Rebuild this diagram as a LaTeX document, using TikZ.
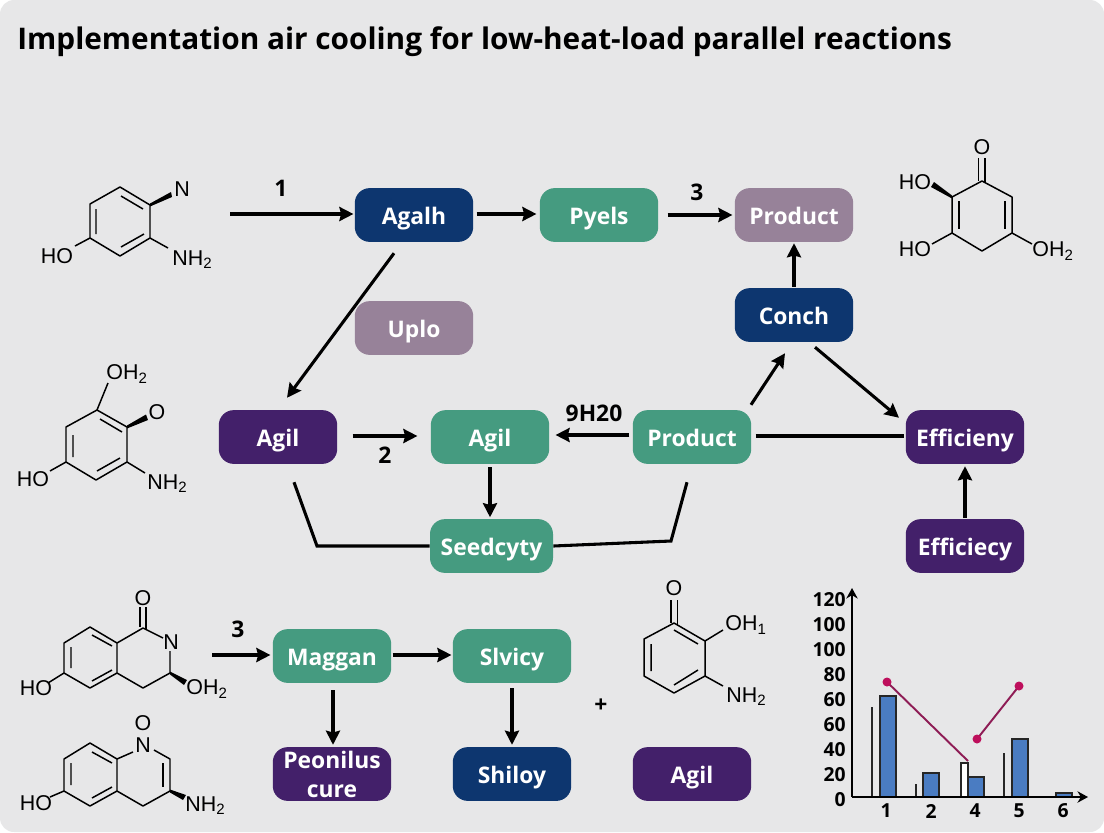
\documentclass[tikz,border=0pt]{standalone}
\usepackage{fontspec}
\setmainfont{Open Sans}
\newfontfamily\chemfont{Liberation Sans}
\usetikzlibrary{arrows.meta,calc}
\definecolor{bgpage}{HTML}{E7E7E8}
\definecolor{navybox}{HTML}{0D366F}
\definecolor{greenbox}{HTML}{459B80}
\definecolor{mauvebox}{HTML}{978299}
\definecolor{purplebox}{HTML}{43206A}
\definecolor{barblue}{HTML}{4A7CC2}
\definecolor{dotred}{HTML}{BE0F5C}
\definecolor{linered}{HTML}{8E1C55}
\tikzset{
  procbase/.style={rounded corners=8.5pt,minimum width=67.4pt,minimum height=30.6pt,inner sep=0pt,
    align=center,text=white,font=\fontsize{13}{16.5}\selectfont\bfseries},
  procbox/.style={procbase,text height=11.5pt,text depth=0.5pt},
  flow/.style={line width=1.75pt,-{Stealth[length=8pt,width=8pt,inset=1pt]}},
  flowline/.style={line width=1.75pt},
  steplabel/.style={font=\fontsize{13}{15}\selectfont\bfseries},
  chem/.style={line width=0.85pt,line join=round},
  atom/.style={inner sep=0pt,font=\chemfont\fontsize{12.2}{14}\selectfont},
  ticklabel/.style={inner sep=0pt,font=\fontsize{11}{13}\selectfont\bfseries},
  bluebar/.style={fill=barblue,draw=black!85,line width=0.85pt},
  thinbar/.style={draw=black!85,fill=white,line width=0.85pt}
}
\begin{document}
\begin{tikzpicture}[x=0.02cm,y=-0.02cm]
  \useasboundingbox (0,0) rectangle (1104,832);
  \fill[white] (0,0) rectangle (1104,832);
  \fill[bgpage,rounded corners=8pt] (0,0) rectangle (1104,832);
  \node[anchor=west,inner sep=0pt,font=\fontsize{16.95}{20}\selectfont\bfseries] (title) at (17,42) {Implementation air cooling for low-heat-load parallel reactions};

  % boxes
  \node[procbox,fill=navybox] (agalh) at (414,215) {Agalh};
  \node[procbox,fill=greenbox] (pyels) at (599,215) {Pyels};
  \node[procbox,fill=mauvebox] (producttop) at (794,215) {Product};
  \node[procbox,fill=navybox] (conch) at (794,315) {Conch};
  \node[procbox,fill=mauvebox] (uplo) at (414,328) {Uplo};
  \node[procbox,fill=purplebox] (agilleft) at (278,437) {Agil};
  \node[procbox,fill=greenbox] (agilmid) at (490,437) {Agil};
  \node[procbox,fill=greenbox] (productmid) at (692,437) {Product};
  \node[procbox,fill=purplebox] (efficieny) at (965,437) {Efficieny};
  \node[procbox,fill=greenbox,minimum width=70pt] (seedcyty) at (491.5,546) {Seedcyty};
  \node[procbox,fill=purplebox] (efficiecy) at (965,546) {Efficiecy};
  \node[procbox,fill=greenbox] (maggan) at (332,656) {Maggan};
  \node[procbox,fill=greenbox] (slvicy) at (512,656) {Slvicy};
  \node[procbase,fill=purplebox] (peonilus) at (332,774) {Peonilus\\cure};
  \node[procbox,fill=navybox] (shiloy) at (512,774) {Shiloy};
  \node[procbox,fill=purplebox] (agilright) at (692,774) {Agil};

  % connectors
  \coordinate (feedtop) at (230,214);
  \coordinate (feedlow) at (212,655);
  \draw[flow] (feedtop) -- ($(agalh.west)+(-1,-1)$);
  \draw[flow] ($(agalh.east)+(3,-1)$) -- ($(pyels.west)+(-3,-1)$);
  \draw[flow] ($(pyels.east)+(9,0)$) -- ($(producttop.west)+(-2,0)$);
  \draw[flow] ($(conch.north)+(0,-1)$) -- ($(producttop.south)+(0,1)$);
  \draw[flow] ($(agalh.south)+(-20,11)$) -- ($(agilleft.north)+(9,-12)$);
  \draw[flow] ($(agilleft.east)+(15,-1)$) -- ($(agilmid.west)+(-13,-1)$);
  \draw[flow] ($(productmid.west)+(-3,-2)$) -- ($(agilmid.east)+(6,-2)$);
  \draw[flow] ($(agilmid.south)+(0,3)$) -- ($(agilmid.south)+(0,53)$);
  \draw[flow] ($(productmid.north)+(59,-5)$) -- ($(conch.south)+(-9,11)$);
  \draw[flow] ($(conch.south)+(21,5)$) -- ($(efficieny.north)+(-66,8)$);
  \draw[flowline] ($(productmid.east)+(4,-1)$) -- ($(efficieny.west)+(-1,-1)$);
  \draw[flow] ($(efficiecy.north)+(0,-1)$) -- ($(efficieny.south)+(0,2)$);
  \draw[flowline] ($(agilleft.south)+(16,18)$) -- (317,546) -- (seedcyty.west);
  \draw[flowline] ($(productmid.south)+(-5,18)$) -- (671,541) -- (seedcyty.east);
  \draw[flow] (feedlow) -- ($(maggan.west)+(-2,-1)$);
  \draw[flow] ($(maggan.east)+(1,-1)$) -- ($(slvicy.west)+(-1,-1)$);
  \draw[flow] ($(maggan.south)+(1,7)$) -- ($(peonilus.north)+(1,-2)$);
  \draw[flow] ($(slvicy.south)+(0,5)$) -- ($(shiloy.north)+(0,-2)$);

  \node[steplabel] (stepone) at (281,188) {1};
  \node[steplabel] (stepthree) at (697,192) {3};
  \node[steplabel] (steptwo) at (385,455) {2};
  \node[steplabel] (stepwater) at (594,413) {9H20};
  \node[steplabel] (stepfour) at (238,629) {3};
  \node[font=\fontsize{13}{15}\selectfont\bfseries] (plus) at (601,706) {+};

  % top left molecule
  \draw[chem] (120,187) -- (150,205) -- (150,238) -- (120,256) -- (90,238) -- (90,204) -- cycle;
  \draw[chem] (96,209) -- (96,234) (121,196) -- (143,209) (121,247) -- (144,234);
  \fill (150,203.5) -- (171,192) -- (172,197) -- (150,206.5) -- cycle;
  \draw[chem] (150,238) -- (168,248) (90,238) -- (75,246);
  \node[atom] (na) at (182,189) {N};
  \node[atom,anchor=west] (nb) at (172,260) {NH\textsubscript{2}};
  \node[atom] (nc) at (57,256) {HO};

  % middle left molecule
  \draw[chem] (97,410) -- (127,427) -- (127,462) -- (96,480) -- (66,462) -- (66,427) -- cycle;
  \draw[chem] (73,435) -- (73,457) (100,419) -- (122,432) (97,471) -- (120,458);
  \fill (127,425.5) -- (146,414.5) -- (148,420) -- (127,428.5) -- cycle;
  \draw[chem] (97,410) -- (108,383) (127,462) -- (145,473) (66,462) -- (50,471);
  \node[atom,anchor=west] (nd) at (106,374) {OH\textsubscript{2}};
  \node[atom] (ne) at (157,412) {O};
  \node[atom,anchor=west] (nf) at (147,484) {NH\textsubscript{2}};
  \node[atom] (ng) at (33,479) {HO};

  % top right molecule
  \draw[chem] (982,181) -- (1012,197) -- (1012,233) -- (982,251) -- (952,233) -- (952,197) -- cycle;
  \draw[chem] (1005,201) -- (1005,229) (959,201) -- (959,229);
  \draw[chem] (978.5,158) -- (978.5,181) (985,158) -- (985,182);
  \fill (952,195.5) -- (934,182) -- (931,187) -- (952,198.5) -- cycle;
  \draw[chem] (952,233) -- (932,244) (1012,233) -- (1032,244);
  \node[atom] (nh) at (982,147) {O};
  \node[atom] (ni) at (915,182) {HO};
  \node[atom] (nj) at (915,249) {HO};
  \node[atom,anchor=west] (nk) at (1032,251) {OH\textsubscript{2}};

  % lower left molecules
  \draw[chem] (90,627) -- (117,643) -- (117,673) -- (90,688) -- (64,673) -- (64,643) -- cycle;
  \draw[chem] (71,647) -- (71,668) (92,635) -- (112,646) (92,681) -- (112,670);
  \draw[chem] (117,643) -- (143,628) -- (163,638) (170,651) -- (170,673) -- (143,688) -- (117,673);
  \draw[chem] (140,607) -- (140,627) (146,607) -- (146,629);
  \fill (170,671.5) -- (187,680) -- (184,685) -- (170,674.5) -- cycle;
  \draw[chem] (64,673) -- (48,683);
  \node[atom] (nl) at (143,598) {O};
  \node[atom] (nm) at (171,642) {N};
  \node[atom,anchor=west] (nn) at (186,689) {OH\textsubscript{2}};
  \node[atom] (no) at (36,688) {HO};

  \draw[chem] (90,743) -- (117,759) -- (117,791) -- (90,806) -- (64,791) -- (64,759) -- cycle;
  \draw[chem] (71,763) -- (71,785) (92,752) -- (112,763) (92,798) -- (112,787);
  \draw[chem] (117,759) -- (133,752) (154,750) -- (170,759) -- (170,791) -- (143,806) -- (117,791);
  \draw[chem] (163,763) -- (163,787);
  \fill (170,789.5) -- (186,795) -- (183,800) -- (170,792.5) -- cycle;
  \draw[chem] (64,791) -- (50,797);
  \node[atom] (np) at (143,723) {O};
  \node[atom] (nq) at (143,745) {N};
  \node[atom,anchor=west] (nr) at (185,806) {NH\textsubscript{2}};
  \node[atom] (ns) at (36,803) {HO};

  % lower middle molecule
  \draw[chem] (674,623) -- (705,641) -- (705,676) -- (674,693) -- (644,676) -- (644,639) -- cycle;
  \draw[chem] (651,644) -- (651,671) (674,630) -- (698,644) (674,685) -- (698,670);
  \draw[chem] (671,600) -- (671,623) (677.5,600) -- (677.5,625);
  \draw[chem] (705,641) -- (723,630) (705,676) -- (723,686);
  \node[atom] (nt) at (674,588) {O};
  \node[atom,anchor=west] (nu) at (725,625) {OH\textsubscript{1}};
  \node[atom,anchor=west] (nv) at (726,697) {NH\textsubscript{2}};

  % chart
  \draw[thinbar] (872,797) -- (872,707) (916,797) -- (916,784) (1004,797) -- (1004,753) (1048,797) -- (1048,796);
  \draw[thinbar] (961,797) rectangle (968,763);
  \draw[bluebar] (880,797) rectangle (896,696);
  \draw[bluebar] (923,797) rectangle (939,773);
  \draw[bluebar] (968,797) rectangle (984,777);
  \draw[bluebar] (1012,797) rectangle (1028,739);
  \draw[bluebar] (1056,797) rectangle (1072,793);
  \draw[line width=1.1pt,-{Stealth[length=6pt,width=6.5pt]}] (852,797) -- (852,588);
  \draw[line width=1.1pt,-{Stealth[length=6pt,width=6.5pt]}] (852,797) -- (1088,797);
  \draw[linered,line width=1.1pt] (887,682) -- (968,761);
  \draw[linered,line width=1.1pt] (977,739) -- (1019,686);
  \foreach \px/\py in {887/682,977/739,1019/686}
    \fill[dotred] (\px,\py) circle (4.5);
  \foreach \tval/\ty in {120/600,100/625,100/650,80/675,60/700,60/725,40/750,20/775,0/800}
    \node[ticklabel,anchor=east] at (846,\ty) {\tval};
  \foreach \tval/\tx in {1/886,2/931,4/975,5/1019,6/1063}
    \node[ticklabel] at (\tx,811) {\tval};
\end{tikzpicture}
\end{document}
